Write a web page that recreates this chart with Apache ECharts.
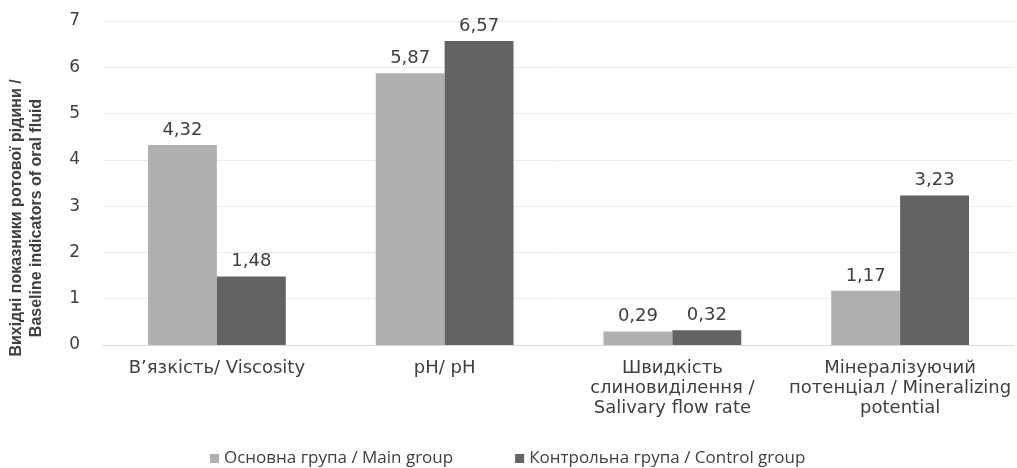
<!DOCTYPE html>
<html>
<head>
<meta charset="utf-8">
<script src="https://cdn.jsdelivr.net/npm/echarts@6/dist/echarts.min.js"></script>
<style>
  html, body { margin: 0; padding: 0; background: #fff; }
  #chart { width: 1017px; height: 468px; }
</style>
</head>
<body>
<div id="chart"></div>
<script>
// Baseline indicators of oral fluid, by group
const categories = [
  'В’язкість/ Viscosity',
  'pH/ pH',
  'Швидкість\nслиновиділення /\nSalivary flow rate',
  'Мінералізуючий\nпотенціал / Mineralizing\npotential'
];
const mainGroup = [4.32, 5.87, 0.29, 1.17];
const controlGroup = [1.48, 6.57, 0.32, 3.23];
const seriesNames = ['Основна група / Main group', 'Контрольна група / Control group'];
const yTitle = 'Вихідні показники ротової рідини /\nBaseline indicators of oral fluid';

const wideFont = '"DejaVu Sans", "Liberation Sans", sans-serif';
const commaFmt = p => p.value.toFixed(2).replace('.', ',');

const chart = echarts.init(document.getElementById('chart'), null, { renderer: 'canvas' });
chart.setOption({
  animation: false,
  textStyle: { fontFamily: wideFont },
  grid: { left: 103, right: 3, top: 21, bottom: 123, containLabel: false, outerBoundsMode: 'none' },
  legend: {
    top: 445,
    left: 205,
    itemWidth: 9,
    itemHeight: 9,
    itemGap: 62,
    icon: 'rect',
    textStyle: { fontFamily: '"Open Sans", sans-serif', fontSize: 17, color: '#404040' },
    data: seriesNames
  },
  xAxis: {
    type: 'category',
    data: categories,
    axisTick: { show: false },
    axisLine: { show: true, lineStyle: { color: '#d9d9d9' } },
    axisLabel: { color: '#404040', fontSize: 18, lineHeight: 20, margin: 13, interval: 0 }
  },
  yAxis: {
    type: 'value',
    min: 0,
    max: 7,
    interval: 1,
    name: yTitle,
    nameLocation: 'middle',
    nameGap: 56,
    nameRotate: 90,
    nameTextStyle: {
      fontFamily: '"Liberation Sans", Arial, sans-serif',
      fontSize: 16, fontWeight: 'bold', color: '#404040', lineHeight: 20, padding: [0, 70, 0, 0]
    },
    axisLabel: { color: '#404040', fontSize: 17, margin: 23 },
    splitLine: { lineStyle: { color: '#ececec', width: 1 } },
    axisLine: { show: false },
    axisTick: { show: false }
  },
  series: [
    {
      name: seriesNames[0],
      type: 'bar',
      data: mainGroup,
      barGap: '0%',
      barCategoryGap: '39.5%',
      itemStyle: { color: '#b0b0b0' },
      label: { show: true, position: 'top', distance: 6, fontSize: 18, color: '#404040', formatter: commaFmt }
    },
    {
      name: seriesNames[1],
      type: 'bar',
      data: controlGroup,
      barGap: '0%',
      barCategoryGap: '39.5%',
      itemStyle: { color: '#636363' },
      label: { show: true, position: 'top', distance: 6, fontSize: 18, color: '#404040', formatter: commaFmt }
    }
  ]
});
</script>
</body>
</html>
